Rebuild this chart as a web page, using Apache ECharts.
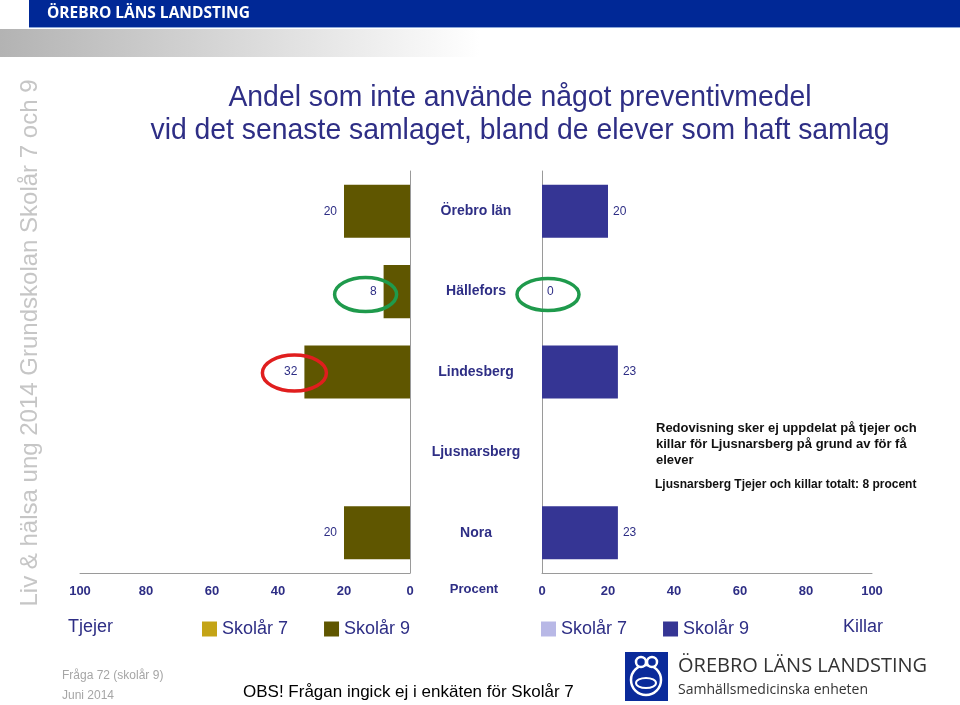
<!DOCTYPE html>
<html>
<head>
<meta charset="utf-8">
<title>Andel som inte använde något preventivmedel</title>
<script src="https://cdn.jsdelivr.net/npm/echarts@6/dist/echarts.min.js"></script>
<style>
  html, body { margin: 0; padding: 0; background: #fff; }
  #chart { width: 960px; height: 705px; }
</style>
</head>
<body>
<div id="chart"></div>
<script>
// ─── data ────────────────────────────────────────────────────
const categories    = ['Örebro län', 'Hällefors', 'Lindesberg', 'Ljusnarsberg', 'Nora']
const tjejerSkolar7 = [null, null, null, null, null]   // frågan ingick ej för skolår 7
const tjejerSkolar9 = [20, 8, 32, null, 20]
const killarSkolar7 = [null, null, null, null, null]
const killarSkolar9 = [20, 0, 23, null, 23]
const axisMin = 0
const axisMax = 100
const axisStep = 20

// ─── colours / fonts ─────────────────────────────────────────
const NAVY   = '#2e2e85'
const OLIVE7 = '#c4a416'
const OLIVE9 = '#5f5600'
const BLUE7  = '#b8b8e6'
const BLUE9  = '#353594'
const AXIS   = '#9a9a9a'
const FONT   = '"Liberation Sans", Arial, sans-serif'

const chart = echarts.init(document.getElementById('chart'), null, { renderer: 'canvas' })

const valueAxis = (gridIndex, inverse) => ({
  type: 'value', gridIndex, inverse,
  min: axisMin, max: axisMax, interval: axisStep,
  axisLine:  { show: true, lineStyle: { color: AXIS, width: 1 } },
  axisTick:  { show: false },
  splitLine: { show: false },
  axisLabel: { color: NAVY, fontSize: 13, fontWeight: 'bold', fontFamily: FONT, margin: 12 },
})

const barLabel = (position, distance) => ({
  show: true, position, distance,
  color: NAVY, fontSize: 12, fontFamily: FONT,
})

const legendBase = (left, names) => ({
  left, top: 620, padding: 0,
  data: names,
  icon: 'rect', itemWidth: 15, itemHeight: 15, itemGap: 36,
  selectedMode: false,
  formatter: name => name.replace(/^(Tjejer|Killar) /, ''),
  textStyle: { color: NAVY, fontSize: 18, fontFamily: FONT },
})

chart.setOption({
  animation: false,
  backgroundColor: '#fff',
  grid: [
    { left: 80,  top: 171, width: 330, height: 402 },
    { left: 542, top: 171, width: 330, height: 402 },
  ],
  xAxis: [valueAxis(0, true), valueAxis(1, false)],
  yAxis: [
    {
      type: 'category', gridIndex: 0, data: categories, inverse: true, position: 'right',
      axisLine: { show: true, lineStyle: { color: AXIS } },
      axisTick: { show: false },
      // kommunnamnen i mittenkolumnen
      axisLabel: { margin: 66, align: 'center', color: NAVY, fontSize: 14, fontWeight: 'bold', fontFamily: FONT, padding: [3, 0, 0, 0] },
    },
    {
      type: 'category', gridIndex: 1, data: categories, inverse: true, position: 'left',
      axisLine: { show: true, lineStyle: { color: AXIS } },
      axisTick: { show: false },
      axisLabel: { show: false },
    },
  ],
  legend: [
    legendBase(202, ['Tjejer Skolår 7', 'Tjejer Skolår 9']),
    legendBase(541, ['Killar Skolår 7', 'Killar Skolår 9']),
  ],
  series: [
    { name: 'Tjejer Skolår 7', type: 'bar', xAxisIndex: 0, yAxisIndex: 0, data: tjejerSkolar7,
      itemStyle: { color: OLIVE7 }, barGap: '-100%', barCategoryGap: '34%' },
    { name: 'Tjejer Skolår 9', type: 'bar', xAxisIndex: 0, yAxisIndex: 0, data: tjejerSkolar9,
      itemStyle: { color: OLIVE9 }, barGap: '-100%', barCategoryGap: '34%',
      label: barLabel('left', 7) },
    { name: 'Killar Skolår 7', type: 'bar', xAxisIndex: 1, yAxisIndex: 1, data: killarSkolar7,
      itemStyle: { color: BLUE7 }, barGap: '-100%', barCategoryGap: '34%' },
    { name: 'Killar Skolår 9', type: 'bar', xAxisIndex: 1, yAxisIndex: 1, data: killarSkolar9,
      itemStyle: { color: BLUE9 }, barGap: '-100%', barCategoryGap: '34%',
      label: barLabel('right', 5) },
  ],
})

// ─── text helper ─────────────────────────────────────────────
const txt = (text, x, y, font, fill, align = 'left', extra = {}) => ({
  type: 'text', x, y, z: 50, ...extra,
  style: { text, font, fill, align, textAlign: align, verticalAlign: 'middle', textVerticalAlign: 'middle' },
})

// ringar runt värden (placeras utifrån datapunkternas pixlar)
const ring = (gridIndex, value, cat, dx, dy, rx, ry, color) => {
  const p = chart.convertToPixel({ gridIndex }, [value, cat])
  return {
    type: 'ellipse', z: 100,
    shape: { cx: p[0] + dx, cy: p[1] + dy, rx, ry },
    style: { fill: 'none', stroke: color, lineWidth: 3.5 },
  }
}

const i = categories.indexOf('Hällefors')
const j = categories.indexOf('Lindesberg')

const graphics = [
  // sidhuvud
  { type: 'rect', shape: { x: 29, y: 0, width: 931, height: 28 }, style: { fill: '#002896' } },
  { type: 'rect', shape: { x: 29, y: 27, width: 931, height: 1 }, style: { fill: '#8aa6d8' } },
  { type: 'rect', shape: { x: 0, y: 29, width: 480, height: 28 },
    style: { fill: { type: 'linear', x: 0, y: 0, x2: 1, y2: 0,
      colorStops: [{ offset: 0, color: '#b3b3b3' }, { offset: 1, color: '#ffffff' }] } } },
  txt('ÖREBRO LÄNS LANDSTING', 47, 14, 'bold 15.5px "Open Sans", sans-serif', '#ffffff'),

  // sidotext
  txt('Liv & hälsa ung 2014 Grundskolan Skolår 7 och 9', 30, 343, '24px ' + FONT, '#c6c6c6', 'center',
    { rotation: Math.PI / 2 }),

  // rubrik (något hoptryckt som i originalet)
  txt('Andel som inte använde något preventivmedel', 520, 98, '30px ' + FONT, NAVY, 'center', { scaleX: 0.945 }),
  txt('vid det senaste samlaget, bland de elever som haft samlag', 520, 131, '30px ' + FONT, NAVY, 'center', { scaleX: 0.945 }),

  // axeltitel
  txt('Procent', 474, 589, 'bold 13px ' + FONT, NAVY, 'center'),

  // förklaring
  txt('Tjejer', 68, 627, '18px ' + FONT, NAVY),
  txt('Killar', 883, 627, '18px ' + FONT, NAVY, 'right'),

  // kommentar Ljusnarsberg
  txt('Redovisning sker ej uppdelat på tjejer och', 656, 428, 'bold 13px ' + FONT, '#111'),
  txt('killar för Ljusnarsberg på grund av för få', 656, 444, 'bold 13px ' + FONT, '#111'),
  txt('elever', 656, 460, 'bold 13px ' + FONT, '#111'),
  txt('Ljusnarsberg Tjejer och killar totalt: 8 procent', 655, 485, 'bold 12px ' + FONT, '#111'),

  // sidfot
  txt('Fråga 72 (skolår 9)', 62, 676, '12px ' + FONT, '#a6a6a6'),
  txt('Juni 2014', 62, 696, '12px ' + FONT, '#a6a6a6'),
  txt('OBS! Frågan ingick ej i enkäten för Skolår 7', 243, 692, '17px ' + FONT, '#000'),

  // logotyp
  { type: 'rect', shape: { x: 625, y: 652, width: 43, height: 49 }, style: { fill: '#0a2a9a' } },
  { type: 'circle', shape: { cx: 646, cy: 680, r: 15 }, style: { fill: 'none', stroke: '#fff', lineWidth: 2.5 } },
  { type: 'circle', shape: { cx: 641, cy: 662, r: 5 }, style: { fill: '#0a2a9a', stroke: '#fff', lineWidth: 2.5 } },
  { type: 'circle', shape: { cx: 652, cy: 662, r: 5 }, style: { fill: '#0a2a9a', stroke: '#fff', lineWidth: 2.5 } },
  { type: 'ellipse', shape: { cx: 646, cy: 683, rx: 10, ry: 5 }, style: { fill: 'none', stroke: '#fff', lineWidth: 2 } },
  txt('ÖREBRO LÄNS LANDSTING', 678, 666, '20px "Open Sans", sans-serif', '#333'),
  txt('Samhällsmedicinska enheten', 678, 690, '14px "Open Sans", sans-serif', '#333'),

  // markeringar
  ring(0, tjejerSkolar9[i], categories[i], -18, 3, 31, 17, '#1f9a4c'),
  ring(1, killarSkolar9[i], categories[i], 6, 3, 31, 16, '#1f9a4c'),
  ring(0, tjejerSkolar9[j], categories[j], -10, 1, 32, 18, '#e01e1e'),
]

chart.setOption({ graphic: graphics })
</script>
</body>
</html>
